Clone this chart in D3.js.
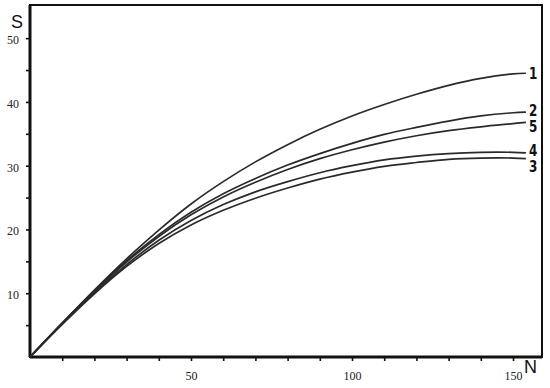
<!DOCTYPE html>
<html>
<head>
<meta charset="utf-8">
<script src="https://cdn.jsdelivr.net/npm/d3@7"></script>
<style>
    body { margin: 0; background: #fff; }
</style>
</head>
<body>
<svg id="chart" width="550" height="388"></svg>
<script>

// sample sizes N and richness S for each curve
var nValues = [0, 10, 20, 30, 40, 50, 60, 70, 80, 90, 100, 110, 120, 130, 140, 150, 154];

var curve1 = [0, 5.3, 10.5, 15.4, 19.9, 24.0, 27.5, 30.6, 33.3, 35.7, 37.8, 39.6, 41.2, 42.6, 43.7, 44.4, 44.5];
var curve2 = [0, 5.3, 10.4, 15.1, 19.2, 22.7, 25.6, 28.0, 30.1, 31.9, 33.5, 34.9, 36.0, 37.0, 37.8, 38.3, 38.4];
var curve5 = [0, 5.3, 10.3, 14.9, 18.9, 22.3, 25.1, 27.4, 29.4, 31.1, 32.5, 33.7, 34.7, 35.5, 36.1, 36.6, 36.8];
var curve4 = [0, 5.2, 10.1, 14.5, 18.3, 21.4, 23.9, 25.9, 27.5, 28.9, 30.0, 30.9, 31.5, 31.9, 32.1, 32.1, 32.0];
var curve3 = [0, 5.1, 9.9, 14.2, 17.8, 20.7, 23.0, 24.9, 26.5, 27.9, 29.0, 29.9, 30.5, 31.0, 31.2, 31.2, 31.1];

var curveNames = ["1", "2", "5", "4", "3"];
var curveValues = [curve1, curve2, curve5, curve4, curve3];

var xTickValues = [10, 20, 30, 40, 50, 60, 70, 80, 90, 100, 110, 120, 130, 140, 150];
var xTickLabels = [50, 100, 150];
var yTickValues = [5, 10, 15, 20, 25, 30, 35, 40, 45, 50];
var yTickLabels = [10, 20, 30, 40, 50];

var svg = d3.select("#chart");

var plot = {"left": 30, "right": 542, "top": 5, "bottom": 357};

var xScale = d3.scaleLinear()
    .domain([0, 159])
    .range([plot.left, plot.right]);

var yScale = d3.scaleLinear()
    .domain([0, 55.2])
    .range([plot.bottom, plot.top]);

// x axis ticks
var xAxis = d3.axisBottom(xScale)
    .tickValues(xTickValues)
    .tickSize(4)
    .tickPadding(10)
    .tickFormat(function (d) {
        return xTickLabels.indexOf(d) >= 0 ? d : "";
    });

var gx = svg.append("g")
    .attr("transform", "translate(0," + plot.bottom + ")")
    .call(xAxis);

// y axis ticks
var yAxis = d3.axisLeft(yScale)
    .tickValues(yTickValues)
    .tickSize(4)
    .tickPadding(7)
    .tickFormat(function (d) {
        return yTickLabels.indexOf(d) >= 0 ? d : "";
    });

var gy = svg.append("g")
    .attr("transform", "translate(" + plot.left + ",0)")
    .call(yAxis);

[gx, gy].forEach(function (g) {
    g.select(".domain").remove();
    g.selectAll(".tick line")
        .attr("stroke", "#111")
        .attr("stroke-width", 1.6);
    g.selectAll(".tick text")
        .attr("font-family", "'Liberation Serif', 'DejaVu Serif', serif")
        .attr("font-size", 12)
        .attr("fill", "#222");
});

gy.selectAll(".tick text").attr("dy", "0.45em");

// frame
svg.append("rect")
    .attr("x", plot.left)
    .attr("y", plot.top)
    .attr("width", plot.right - plot.left)
    .attr("height", plot.bottom - plot.top)
    .attr("fill", "none")
    .attr("stroke", "#111")
    .attr("stroke-width", 2);

// heavier left and bottom axes
svg.append("line")
    .attr("x1", plot.left).attr("x2", plot.left)
    .attr("y1", plot.top).attr("y2", plot.bottom)
    .attr("stroke", "#111").attr("stroke-width", 3);

svg.append("line")
    .attr("x1", plot.left).attr("x2", plot.right)
    .attr("y1", plot.bottom).attr("y2", plot.bottom)
    .attr("stroke", "#111").attr("stroke-width", 3);

// curves
var line = d3.line()
    .x(function (d, i) { return xScale(nValues[i]); })
    .y(function (d) { return yScale(d); })
    .curve(d3.curveCatmullRom);

svg.selectAll("path.curve")
    .data(curveValues)
    .enter()
    .append("path")
    .attr("class", "curve")
    .attr("d", line)
    .attr("fill", "none")
    .attr("stroke", "#2a2a2a")
    .attr("stroke-width", 1.7);

// curve labels, nudged apart so they don't overlap
var labels = curveValues.map(function (vals, i) {
    return {"name": curveNames[i], "y": yScale(vals[vals.length - 1])};
});
labels.sort(function (a, b) { return a.y - b.y; });
var minGap = 16;
for (var i = 1; i < labels.length; i++) {
    var gap = labels[i].y - labels[i - 1].y;
    if (gap < minGap) {
        labels[i - 1].y -= (minGap - gap) * 0.25;
        labels[i].y = labels[i - 1].y + minGap;
    }
}

var lastX = xScale(nValues[nValues.length - 1]);

svg.selectAll("text.curve-label")
    .data(labels)
    .enter()
    .append("text")
    .attr("class", "curve-label")
    .attr("transform", function (d) {
        return "translate(" + (lastX + 3) + "," + d.y + ") scale(0.8,1)";
    })
    .attr("dy", "0.36em")
    .attr("font-family", "'DejaVu Sans', sans-serif")
    .attr("font-weight", "bold")
    .attr("font-size", 15)
    .attr("fill", "#111")
    .text(function (d) { return d.name; });

// axis titles
svg.append("text")
    .attr("x", 11)
    .attr("y", 28)
    .attr("font-family", "'Liberation Sans', Arial, sans-serif")
    .attr("font-size", 18)
    .attr("fill", "#111")
    .text("S");

svg.append("text")
    .attr("x", 524)
    .attr("y", 373)
    .attr("font-family", "'Liberation Sans', Arial, sans-serif")
    .attr("font-size", 18)
    .attr("fill", "#111")
    .text("N");

</script>
</body>
</html>
